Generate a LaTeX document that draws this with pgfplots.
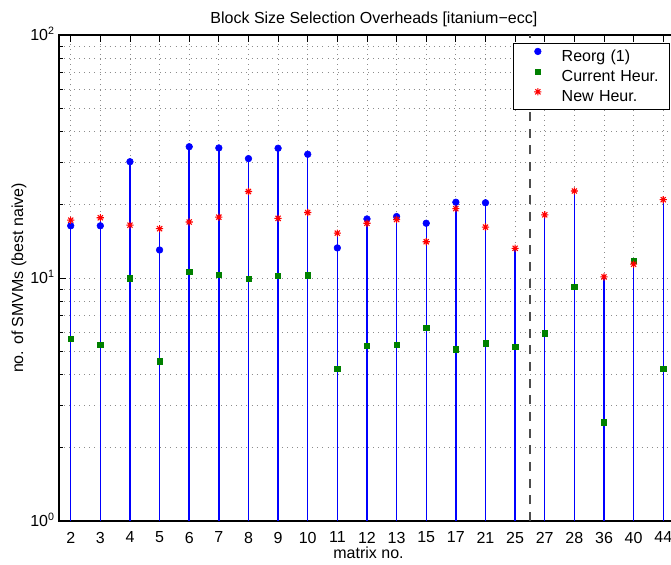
\documentclass[border=0pt]{standalone}
\usepackage{fontspec}
\setmainfont{Liberation Sans}
\usepackage{pgfplots}
\pgfplotsset{compat=1.18}
\usepackage{pgfplotstable}

\pgfdeclareplotmark{mstar}{%
  \pgfpathmoveto{\pgfqpoint{-\pgfplotmarksize}{0pt}}%
  \pgfpathlineto{\pgfqpoint{\pgfplotmarksize}{0pt}}%
  \pgfpathmoveto{\pgfqpoint{0pt}{-\pgfplotmarksize}}%
  \pgfpathlineto{\pgfqpoint{0pt}{\pgfplotmarksize}}%
  \pgfpathmoveto{\pgfqpoint{-.707\pgfplotmarksize}{-.707\pgfplotmarksize}}%
  \pgfpathlineto{\pgfqpoint{.707\pgfplotmarksize}{.707\pgfplotmarksize}}%
  \pgfpathmoveto{\pgfqpoint{-.707\pgfplotmarksize}{.707\pgfplotmarksize}}%
  \pgfpathlineto{\pgfqpoint{.707\pgfplotmarksize}{-.707\pgfplotmarksize}}%
  \pgfusepathqstroke}

\pgfplotsset{mylegimg/.style={legend image code/.code={\path (-18pt,0pt) (17.5pt,8pt); \draw[##1] plot coordinates {(0pt,4.3pt)};}}}

\pgfplotstableread{
idx reorg cur new stem
1  16.4  5.63  17.3  17.3
2  16.4  5.32  17.7  17.7
3  30.1  9.97  16.5  30.1
4  13.04 4.55  15.96 15.96
5  34.7  10.6  17.0  34.7
6  34.3  10.3  17.8  34.3
7  31.0  9.9   22.7  31.0
8  34.2  10.2  17.6  34.2
9  32.3  10.26 18.6  32.3
10 13.3  4.23  15.3  15.3
11 17.5  5.25  16.8  17.5
12 17.9  5.32  17.4  17.9
13 16.8  6.23  14.1  16.8
14 20.5  5.09  19.3  20.5
15 20.4  5.39  16.2  20.4
16 nan   5.21  13.25 13.25
17 nan   5.92  18.2  18.2
18 nan   9.21  22.8  22.8
19 nan   2.55  10.1  10.1
20 nan   11.75 11.4  11.75
21 nan   4.23  21.0  21.0
}\datatab

\definecolor{mblue}{rgb}{0,0,1}
\definecolor{mgreen}{rgb}{0,0.5,0}
\definecolor{mred}{rgb}{1,0,0}

\begin{document}
\begin{tikzpicture}
\begin{axis}[
  set layers=standard,
  width=464.3pt, height=364.5pt, scale only axis,
  font=\fontsize{12}{14}\selectfont,
  ymode=log, ymin=1, ymax=100,
  xmin=0.605, xmax=21.5,
  xtick={1,...,21},
  xticklabels={2,3,4,5,6,7,8,9,10,11,12,13,15,17,21,25,27,28,36,40,44},
  ytick={1,10,100},
  yticklabels={10\textsuperscript{0},10\textsuperscript{1},10\textsuperscript{2}},
  minor ytick={2,3,4,5,6,7,8,9,20,30,40,50,60,70,80,90},
  tick align=inside,
  major tick length=5.25pt, minor tick length=3pt,
  every tick/.style={black, line width=0.6pt},
  axis line style={line width=0.9pt},
  xmajorgrids, ymajorgrids, yminorgrids,
  major grid style={black!45, line width=0.55pt, dash pattern=on 0.6pt off 3.2pt},
  minor grid style={black!45, line width=0.55pt, dash pattern=on 0.6pt off 3.2pt},
  xticklabel style={inner sep=0pt, yshift=-8pt},
  yticklabel style={inner sep=0pt, anchor=base east, xshift=-3pt, yshift=-4.3pt},
  title={Block Size Selection Overheads [itanium−ecc]},
  title style={at={(axis description cs:0.5,1)}, anchor=base, yshift=2.5pt, inner sep=0pt, xshift=4pt},
  xlabel={matrix no.},
  xlabel style={at={(axis description cs:0.5,0)}, anchor=center, yshift=-23.5pt},
  ylabel={no. of SMVMs (best naive)},
  ylabel style={at={(axis description cs:0,0.5)}, anchor=center, yshift=30pt},
  legend style={at={(0.733,0.984)}, anchor=north west, draw=black, line width=0.8pt,
    fill=white, inner xsep=0pt, inner ysep=2pt, column sep=0pt, row sep=0pt,
    nodes={inner xsep=0pt, inner ysep=0.75pt, text height=9pt, text depth=3pt,
      text width=80.5pt, align=left, font=\fontsize{12}{14}\selectfont}},
]
\addplot[forget plot, mblue, line width=1.1pt, ycomb, mark=none] table[x=idx, y=stem] {\datatab};
\addplot[forget plot, black!70, line width=1.2pt, dash pattern=on 6.75pt off 5.75pt] coordinates {(16.5,1) (16.5,100)};
\addplot[only marks, mark=*, mark size=2.5pt, mark options={fill=mblue, draw=mblue, line width=0.4pt}, color=mblue, mylegimg]
  table[x=idx, y=reorg] {\datatab};
\addlegendentry{Reorg (1)}
\addplot[only marks, mark=square*, mark size=2pt, mark options={fill=mgreen, draw=mgreen, line width=0.4pt}, color=mgreen, mylegimg]
  table[x=idx, y=cur] {\datatab};
\addlegendentry{Current Heur.}
\addplot[only marks, mark=mstar, mark size=2.7pt, mark options={draw=mred, line width=0.8pt}, color=mred, mylegimg]
  table[x=idx, y=new] {\datatab};
\addlegendentry{New Heur.}
\end{axis}
\pgfresetboundingbox
\path ([xshift=-44.25pt,yshift=-32.25pt]current axis.south west) rectangle ([xshift=-5.3pt,yshift=26.25pt]current axis.north east);
\end{tikzpicture}
\end{document}
